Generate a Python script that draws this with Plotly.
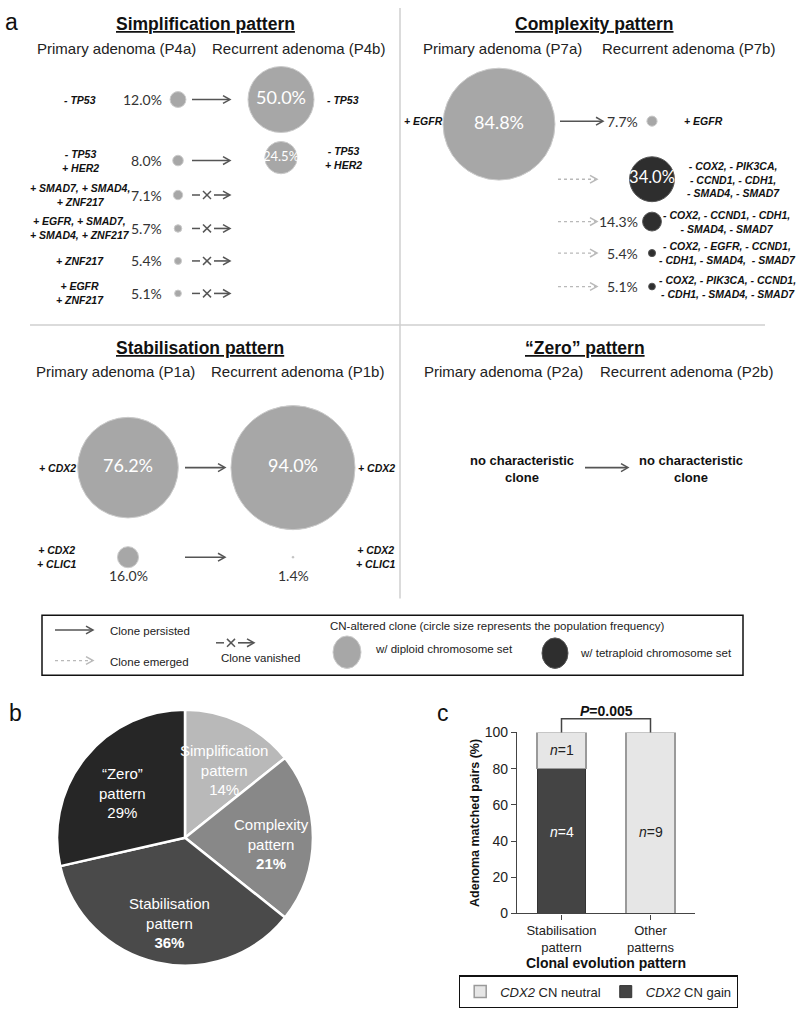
import math
import plotly.graph_objects as go

W, H = 800, 1013
FONT = "Liberation Sans, Arial, sans-serif"
NUMFONT = "Lato, Open Sans, sans-serif"

# ---------------- data ----------------
# Panel a - Simplification pattern (P4a -> P4b)
simp_genes = ["- TP53", "- TP53<br>+ HER2", "+ SMAD7, + SMAD4,<br>+ ZNF217",
              "+ EGFR, + SMAD7,<br>+ SMAD4, + ZNF217", "+ ZNF217", "+ EGFR<br>+ ZNF217"]
simp_primary = [12.0, 8.0, 7.1, 5.7, 5.4, 5.1]
simp_recurrent = [50.0, 24.5, None, None, None, None]
simp_status = ["persisted", "persisted", "vanished", "vanished", "vanished", "vanished"]

# Panel a - Complexity pattern (P7a -> P7b)
compl_primary_genes = ["+ EGFR"]
compl_primary = [84.8]
compl_rec_genes = ["+ EGFR",
                   "- COX2, - PIK3CA,<br>- CCND1, - CDH1,<br>- SMAD4, - SMAD7",
                   "- COX2, - CCND1, - CDH1,<br>- SMAD4, - SMAD7",
                   "- COX2, - EGFR, - CCND1,<br>- CDH1, - SMAD4,  - SMAD7",
                   "- COX2, - PIK3CA, - CCND1,<br>- CDH1, - SMAD4, - SMAD7"]
compl_recurrent = [7.7, 34.0, 14.3, 5.4, 5.1]
compl_ploidy = ["diploid", "tetraploid", "tetraploid", "tetraploid", "tetraploid"]
compl_status = ["persisted", "emerged", "emerged", "emerged", "emerged"]

# Panel a - Stabilisation pattern (P1a -> P1b)
stab_genes = ["+ CDX2", "+ CDX2<br>+ CLIC1"]
stab_primary = [76.2, 16.0]
stab_recurrent = [94.0, 1.4]

# Panel b - pie
pattern_names = ["Simplification<br>pattern", "Complexity<br>pattern",
                 "Stabilisation<br>pattern", "\u201cZero\u201d<br>pattern"]
pattern_counts = [2, 3, 5, 4]

# Panel c - stacked bars
bar_categories = ["Stabilisation<br>pattern", "Other<br>patterns"]
cdx2_gain = [80, 0]
cdx2_neutral = [20, 100]
n_gain = [4, 0]
n_neutral = [1, 9]
p_value = "0.005"

# ---------------- styles / layout helpers ----------------
DIAM_PER_PCT = 1.32
COL = {"diploid": "#a7a7a7", "tetraploid": "#2e2e2e"}
RIM = {"diploid": "#cbcbcb", "tetraploid": "#555555"}

fig = go.Figure()
shapes, ann = [], []
bub = {"x": [], "y": [], "s": [], "c": [], "l": [], "t": [], "ts": []}


def text(x, y, s, size=14, color="#222222", xanchor="center", yanchor="middle", family=FONT, ref=("x", "y")):
    ann.append(dict(x=x, y=y, xref=ref[0], yref=ref[1], text=s, showarrow=False,
                    font=dict(size=size, color=color, family=family),
                    xanchor=xanchor, yanchor=yanchor))


def gene(x, y, s, xanchor="center"):
    text(x, y, f"<b><i>{s}</i></b>", size=10.5, color="#111111", xanchor=xanchor)


def pct_label(x, y, v, xanchor="right"):
    text(x, y, f"{v:.1f}%", size=14, color="#333333", xanchor=xanchor, family=NUMFONT)


def line(x0, y0, x1, y1, color="#555555", width=1.5, dash="solid"):
    shapes.append(dict(type="line", xref="x", yref="y", x0=x0, y0=y0, x1=x1, y1=y1,
                       line=dict(color=color, width=width, dash=dash)))


def arrow(x0, x1, y, dotted=False):
    color = "#b9b9b9" if dotted else "#555555"
    line(x0, y, x1 - 1, y, color=color, width=1.3 if dotted else 1.6, dash="dot" if dotted else "solid")
    shapes.append(dict(type="path", xref="x", yref="y",
                       path=f"M {x1-7},{y-4} L {x1},{y} L {x1-7},{y+4}",
                       line=dict(color=color, width=1.5)))


def vanish(x0, y):
    line(x0, y, x0 + 8, y)
    line(x0 + 11, y - 4, x0 + 19, y + 4)
    line(x0 + 11, y + 4, x0 + 19, y - 4)
    arrow(x0 + 22, x0 + 38, y)


def bubble(x, y, v, ploidy="diploid", inside=False):
    d = v * DIAM_PER_PCT
    bub["x"].append(x); bub["y"].append(y); bub["s"].append(d)
    bub["c"].append(COL[ploidy]); bub["l"].append(RIM[ploidy])
    if inside:
        bub["t"].append(f"{v:.1f}%")
        bub["ts"].append(18 if d >= 60 else (16.5 if d >= 40 else 13))
    else:
        bub["t"].append(""); bub["ts"].append(10)
    return d


# ---------------- panel a ----------------
text(11, 14, "a", size=23, color="#111111", xanchor="center")
line(400, 0, 400, 600, color="#cfcfcf", width=1.5)
line(30, 322, 765, 322, color="#cfcfcf", width=1.5)

TITLE_SIZE, SUB_SIZE = 17.5, 15

# Simplification
text(205, 16, "<b><u>Simplification pattern</u></b>", size=TITLE_SIZE, color="#111111")
text(116, 41, "Primary adenoma (P4a)", size=SUB_SIZE)
text(298, 41, "Recurrent adenoma (P4b)", size=SUB_SIZE)
S_ROW_Y = [93, 155, 190, 224, 257, 290]
for i, (g, p, r, st) in enumerate(zip(simp_genes, simp_primary, simp_recurrent, simp_status)):
    y = S_ROW_Y[i]
    gene(80, y, g)
    pct_label(164, y, p)
    bubble(178, y, p)
    if st == "persisted":
        arrow(192, 230, y)
        bubble(281, y - (3 if i == 1 else 0), r, inside=True)
        gene(343, y - (3 if i == 1 else 0), g)
    else:
        vanish(192, y)

# Complexity
text(594, 16, "<b><u>Complexity pattern</u></b>", size=TITLE_SIZE, color="#111111")
text(502, 41, "Primary adenoma (P7a)", size=SUB_SIZE)
text(688, 41, "Recurrent adenoma (P7b)", size=SUB_SIZE)
bubble(499, 118, compl_primary[0], inside=True)
gene(402, 115, compl_primary_genes[0], xanchor="left")
C_ROW_Y = [115, 174, 217, 249, 283]
C_LABEL_X = [703, 733, 726, 727, 727]
for i, (g, v, pl, st) in enumerate(zip(compl_rec_genes, compl_recurrent, compl_ploidy, compl_status)):
    y = C_ROW_Y[i]
    if st == "persisted":
        arrow(560, 603, y)
    else:
        arrow(558, 597, y, dotted=True)
    big = v * DIAM_PER_PCT >= 40
    bubble(652, y, v, ploidy=pl, inside=big)
    if not big:
        pct_label(640, y, v)
    gene(C_LABEL_X[i], y, g)

# Stabilisation
text(200, 345, "<b><u>Stabilisation pattern</u></b>", size=TITLE_SIZE, color="#111111")
text(115, 369, "Primary adenoma (P1a)", size=SUB_SIZE)
text(297, 369, "Recurrent adenoma (P1b)", size=SUB_SIZE)
ST_ROW_Y = [467, 558]
for i, (g, p, r) in enumerate(zip(stab_genes, stab_primary, stab_recurrent)):
    y = ST_ROW_Y[i]
    gene(57, y, g)
    big_p = p * DIAM_PER_PCT >= 40
    big_r = r * DIAM_PER_PCT >= 40
    bubble(128, y, p, inside=big_p)
    bubble(293, y, r, inside=big_r)
    if not big_p:
        pct_label(128, y + 19, p, xanchor="center")
    if not big_r:
        pct_label(293, y + 19, r, xanchor="center")
    arrow(185, 225, y)
    gene(376, y, g)

# Zero
text(585, 345, "<b><u>\u201cZero\u201d pattern</u></b>", size=TITLE_SIZE, color="#111111")
text(503, 369, "Primary adenoma (P2a)", size=SUB_SIZE)
text(686, 369, "Recurrent adenoma (P2b)", size=SUB_SIZE)
text(522, 468, "<b>no characteristic<br>clone</b>", size=13, color="#111111")
text(691, 468, "<b>no characteristic<br>clone</b>", size=13, color="#111111")
arrow(585, 628, 467)

# legend box of panel a
shapes.append(dict(type="rect", xref="x", yref="y", x0=42, y0=617, x1=743, y1=678,
                   line=dict(color="#111111", width=1.5)))
arrow(55, 93, 632)
text(108, 633, "Clone persisted", size=11.5, xanchor="left")
arrow(55, 93, 663, dotted=True)
text(108, 664, "Clone emerged", size=11.5, xanchor="left")
vanish(216, 645)
text(219, 660, "Clone vanished", size=11.5, xanchor="left")
text(328, 628, "CN-altered clone (circle size represents the population frequency)", size=11.5, xanchor="left")
shapes.append(dict(type="circle", xref="x", yref="y", x0=333, y0=638, x1=361, y1=671,
                   fillcolor=COL["diploid"], line=dict(color=RIM["diploid"], width=1)))
text(373, 651, "w/ diploid chromosome set", size=11.5, xanchor="left")
shapes.append(dict(type="circle", xref="x", yref="y", x0=542, y0=640, x1=568, y1=671,
                   fillcolor=COL["tetraploid"], line=dict(color=RIM["tetraploid"], width=1)))
text(578, 655, "w/ tetraploid chromosome set", size=11.5, xanchor="left")

fig.add_trace(go.Scatter(
    x=bub["x"], y=bub["y"], mode="markers+text", text=bub["t"],
    textposition="middle center",
    textfont=dict(color="white", size=bub["ts"], family=NUMFONT),
    marker=dict(size=bub["s"], color=bub["c"], line=dict(color=bub["l"], width=1), opacity=1),
    xaxis="x", yaxis="y", showlegend=False, hoverinfo="skip", cliponaxis=False))

# ---------------- panel b: pie ----------------
text(15, 716, "b", size=23, color="#111111")
PIE_CX, PIE_CY, PIE_R = 185, 843, 130
pie_colors = ["#b9b9b9", "#888888", "#4a4a4a", "#262626"]
pie_bold = [False, True, True, False]
fig.add_trace(go.Pie(
    values=pattern_counts, labels=[n.replace("<br>", " ") for n in pattern_names],
    sort=False, direction="clockwise", rotation=0, textinfo="none",
    marker=dict(colors=pie_colors, line=dict(color="white", width=2.5)),
    domain=dict(x=[(PIE_CX - PIE_R) / W, (PIE_CX + PIE_R) / W],
                y=[1 - (PIE_CY + PIE_R) / H, 1 - (PIE_CY - PIE_R) / H]),
    showlegend=False, hoverinfo="skip"))
total = sum(pattern_counts)
cum = 0
for name, c, b in zip(pattern_names, pattern_counts, pie_bold):
    mid = (cum + c / 2) / total * 2 * math.pi
    cum += c
    r = 0.64 * PIE_R
    pct = f"{round(100 * c / total)}%"
    pct = f"<b>{pct}</b>" if b else pct
    text(PIE_CX + r * math.sin(mid) + 3, PIE_CY - r * math.cos(mid) + 6, f"{name}<br>{pct}",
         size=15, color="white")

# ---------------- panel c: stacked bars ----------------
text(443, 716, "c", size=23, color="#111111")
X2_L, X2_R = 517, 695
Y2_B, Y2_T = 920, 736
fig.add_trace(go.Bar(x=bar_categories, y=cdx2_gain, name="<i>CDX2</i> CN gain",
                     marker=dict(color="#444444", line=dict(color="#333333", width=1)),
                     width=0.55, xaxis="x2", yaxis="y2", hoverinfo="skip"))
fig.add_trace(go.Bar(x=bar_categories, y=cdx2_neutral, name="<i>CDX2</i> CN neutral",
                     marker=dict(color="#e6e6e6", line=dict(color="#9a9a9a", width=1.5)),
                     width=0.55, xaxis="x2", yaxis="y2", hoverinfo="skip"))


def px2(ci):
    return X2_L + (ci + 0.5) / 2 * (X2_R - X2_L)


def py2(v):
    return Y2_B - v / 100 * (Y2_B - Y2_T)


for ci, cat in enumerate(bar_categories):
    g, ne = cdx2_gain[ci], cdx2_neutral[ci]
    if n_gain[ci]:
        text(cat, g / 2 + 5, f"<i>n</i>={n_gain[ci]}", size=14, color="white", ref=("x2", "y2"))
    if n_neutral[ci]:
        yv = g + ne / 2 if g else 45
        text(cat, yv, f"<i>n</i>={n_neutral[ci]}", size=14, color="#222222", ref=("x2", "y2"))

br_y = py2(107.5)
shapes.append(dict(type="path", xref="x", yref="y",
                   path=f"M {px2(0)},{py2(100)} L {px2(0)},{br_y} L {px2(1)},{br_y} L {px2(1)},{py2(100)}",
                   line=dict(color="#444444", width=1.5)))
text((px2(0) + px2(1)) / 2, br_y - 8, f"<b><i>P</i>={p_value}</b>", size=14, color="#111111")

fig.update_layout(
    width=W, height=H, margin=dict(l=0, r=0, t=0, b=0),
    paper_bgcolor="white", plot_bgcolor="rgba(0,0,0,0)",
    font=dict(family=FONT, color="#222222"),
    barmode="stack",
    xaxis=dict(domain=[0, 1], range=[0, W], visible=False, fixedrange=True),
    yaxis=dict(domain=[0, 1], range=[H, 0], visible=False, fixedrange=True),
    xaxis2=dict(domain=[X2_L / W, X2_R / W], anchor="y2", type="category",
                range=[-0.5, 1.5], showline=True, linecolor="#444444", linewidth=1.3,
                ticks="outside", ticklen=5, tickcolor="#444444", showgrid=False,
                tickfont=dict(size=13, color="#222222"),
                title=dict(text="<b>Clonal evolution pattern</b>", font=dict(size=14, color="#111111"), standoff=4)),
    yaxis2=dict(domain=[1 - Y2_B / H, 1 - Y2_T / H], anchor="x2", range=[0, 100],
                tickvals=[0, 20, 40, 60, 80, 100], showline=True, linecolor="#444444", linewidth=1.3,
                ticks="outside", ticklen=5, tickcolor="#444444", showgrid=False, zeroline=False,
                tickfont=dict(size=14, color="#222222"),
                title=dict(text="<b>Adenoma matched pairs (%)</b>", font=dict(size=12.5, color="#111111"), standoff=2)),
    legend=dict(orientation="h", x=459 / W, y=1 - 983 / H, xanchor="left", yanchor="top",
                bordercolor="#111111", borderwidth=1.2, traceorder="reversed",
                font=dict(size=13, color="#222222"), itemwidth=30),
    shapes=shapes, annotations=ann,
)

fig.write_html("out.html", config={"displayModeBar": False},
               post_script="document.body.style.margin='0';")
